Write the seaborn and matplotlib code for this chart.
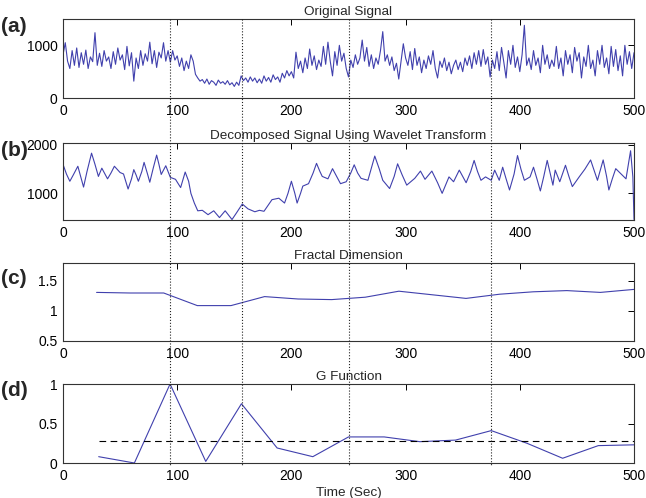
import matplotlib

matplotlib.use("Agg")
import matplotlib.pyplot as plt
import numpy as np
import pandas as pd
import seaborn as sns
from matplotlib.lines import Line2D
from matplotlib.transforms import blended_transform_factory

# --- data ------------------------------------------------------------------

# (a) original signal, sampled every 2 s, in segments
orig_0_94 = [820, 1050, 700, 560, 900, 620, 950, 580, 860, 640, 910, 560, 780, 690,
             1240, 620, 850, 600, 900, 700, 780, 560, 880, 640, 950, 720, 820, 540,
             980, 610, 860, 320, 760, 560, 900, 620, 840, 700, 1060, 650, 900, 580,
             870, 760, 1050, 700, 900, 680]
orig_96_154 = [900, 720, 800, 600, 760, 520, 700, 560, 820, 700,
               450, 380, 320, 350, 280, 360, 260, 330, 300, 240, 340, 280, 310, 260,
               330, 250, 290, 220, 300, 240]
orig_156_250 = [420, 330, 380, 300, 400, 320, 380, 290, 360, 280, 420, 320, 390, 300,
                440, 350, 400, 300, 470, 380, 520, 420, 500, 380, 870, 560, 700, 480,
                760, 560, 930, 620, 800, 540, 720, 600, 980, 640, 1060, 700, 420, 880,
                620, 1000, 700, 850, 560, 400]
orig_252_500 = [720, 580, 820, 640, 760, 1100, 700, 960, 600, 820, 560, 760, 640, 900,
                1260, 700, 820, 620, 780, 520, 660, 360, 700, 1030, 760, 620, 880, 540,
                940, 620, 780, 480, 720, 560, 800, 640, 900, 560, 380, 700, 580, 760,
                520, 680, 460, 620, 720, 540, 680, 500, 760, 620, 800, 560, 860, 640,
                900, 600, 920, 640, 780, 400, 720, 560, 880, 520, 960, 680, 380, 900,
                640, 1000, 580, 780, 500, 820, 1380, 620, 760, 540, 900, 620, 760, 480,
                1000, 640, 820, 560, 720, 600, 980, 560, 760, 420, 900, 640, 820, 480,
                960, 700, 860, 380, 780, 600, 1000, 560, 720, 420, 900, 640, 1000, 580,
                760, 460, 980, 600, 920, 520, 800, 420, 1000, 640, 880, 560, 860]
orig_signal = orig_0_94 + orig_96_154 + orig_156_250 + orig_252_500

# (b) wavelet-decomposed signal (peaks, troughs and shoulders)
wave_time = [0, 3, 6, 9, 13, 16, 18, 21, 25, 28, 31, 34, 39, 42, 45, 50, 53, 57, 60,
             62, 64, 66, 69, 71, 74, 76, 79, 82, 84, 86, 90, 94, 98.5, 103, 105, 107,
             110, 112, 115, 118, 122, 127, 132, 137, 142, 148, 152, 157, 162, 168, 172,
             176, 183, 189, 194, 197, 200, 203, 205, 208, 210, 215, 219, 222, 225, 227,
             232, 236, 243, 248, 252, 255, 258, 261, 267, 270, 273, 277, 280, 286, 290,
             293, 297, 301, 308, 313, 317, 323, 328, 332, 338, 342, 347, 353, 357, 360,
             363, 366, 370, 375, 378, 382, 385, 388, 391, 395, 398, 401, 404, 409, 412,
             415, 418, 421, 424, 429, 431, 435, 440, 443, 446, 452, 457, 462, 465, 468,
             473, 476, 478, 481, 484, 490, 493, 497, 499, 500]
wave_value = [1600, 1400, 1250, 1380, 1560, 1300, 1130, 1450, 1830, 1600, 1350, 1520,
              1300, 1420, 1560, 1430, 1400, 1090, 1300, 1490, 1380, 1250, 1450, 1640,
              1400, 1230, 1520, 1790, 1600, 1390, 1570, 1330, 1290, 1120, 1280, 1440,
              1250, 1000, 800, 640, 650, 560, 640, 500, 640, 460, 600, 780, 680, 620,
              650, 630, 870, 900, 800, 1000, 1250, 1000, 800, 1000, 1150, 1200, 1420,
              1620, 1450, 1350, 1300, 1510, 1200, 1240, 1420, 1590, 1420, 1310, 1270,
              1520, 1770, 1500, 1270, 1100, 1350, 1610, 1380, 1170, 1310, 1460, 1290,
              1460, 1220, 1000, 1340, 1240, 1480, 1220, 1450, 1680, 1450, 1270, 1340,
              1270, 1480, 1270, 1540, 1300, 1070, 1400, 1780, 1500, 1270, 1340, 1540,
              1300, 1050, 1350, 1680, 1170, 1480, 1240, 1580, 1350, 1140, 1340, 1500,
              1690, 1480, 1270, 1690, 1350, 1070, 1300, 1510, 1370, 1300, 1880, 1340,
              460]

# (c) fractal dimension
fd_time = [29.4, 58.8, 88.2, 117.6, 147.1, 176.5, 205.9, 235.3, 264.7, 294.1, 323.5,
           352.9, 382.4, 411.8, 441.2, 470.6, 500]
fd_value = [1.31, 1.30, 1.30, 1.09, 1.09, 1.24, 1.20, 1.19, 1.23, 1.33, 1.27, 1.21,
            1.28, 1.32, 1.34, 1.31, 1.36]

# (d) G function
g_time = [31.25, 62.5, 93.75, 125, 156.25, 187.5, 218.75, 250, 281.25, 312.5, 343.75,
          375, 406.25, 437.5, 468.75, 500]
g_value = [0.08, 0.0, 1.0, 0.02, 0.75, 0.19, 0.08, 0.33, 0.33, 0.27, 0.29, 0.41, 0.25,
           0.06, 0.22, 0.23]

event_times = [94, 157, 250, 375]

titles = ["Original Signal", "Decomposed Signal Using Wavelet Transform",
          "Fractal Dimension", "G Function"]
panel_tags = ["(a)", "(b)", "(c)", "(d)"]
ytick_sets = [[0, 1000], [1000, 2000], [0.5, 1, 1.5], [0, 0.5, 1]]
ytick_texts = [["0", "1000"], ["1000", "2000"], ["0.5", "1", "1.5"], ["0", "0.5", "1"]]
ylims = [(0, 1500), (450, 2040), (0.5, 1.8), (0, 1)]
xticks = [0, 100, 200, 300, 400, 500]

# --- figure ---------------------------------------------------------------

sns.set_theme(style="white")
plt.rcParams["font.family"] = ["Liberation Sans", "DejaVu Sans"]

W, H = 646, 498
fig = plt.figure(figsize=(W / 100, H / 100), dpi=100)

# axes boxes in pixels: (top, bottom)
boxes = [(19, 98), (143, 220), (263, 341), (384, 463)]
left_px, right_px = 63, 634
axes = []
for top, bottom in boxes:
    ax = fig.add_axes([left_px / W, 1 - bottom / H, (right_px - left_px) / W,
                       (bottom - top) / H])
    axes.append(ax)

line_color = "#4040ad"
frames = [
    pd.DataFrame({"t": np.linspace(0, 500, len(orig_signal)), "v": orig_signal}),
    pd.DataFrame({"t": wave_time, "v": wave_value}),
    pd.DataFrame({"t": fd_time, "v": fd_value}),
    pd.DataFrame({"t": g_time, "v": g_value}),
]
for ax, df in zip(axes, frames):
    sns.lineplot(data=df, x="t", y="v", sort=False, estimator=None,
                 color=line_color, linewidth=0.8, ax=ax)

g_mean = float(np.mean(g_value))
axes[3].plot([g_time[0], g_time[-1]], [g_mean, g_mean], color="black",
             linestyle=(0, (6, 4)), linewidth=0.8)

for i, ax in enumerate(axes):
    ax.set_xlim(0, 500)
    ax.set_ylim(*ylims[i])
    ax.set_xticks(xticks)
    ax.set_xticklabels([str(t) for t in xticks])
    ax.set_yticks(ytick_sets[i])
    ax.set_yticklabels(ytick_texts[i])
    ax.tick_params(direction="in", length=4, width=0.7, top=True, right=True,
                   labelsize=10, colors="black", pad=4)
    for sp in ax.spines.values():
        sp.set_color("#333333")
        sp.set_linewidth(0.8)
    ax.set_xlabel("")
    ax.set_ylabel("")
    ax.set_title(titles[i], fontsize=9.7, pad=3)

axes[3].set_xlabel("Time (Sec)", fontsize=9.7, labelpad=3)

# event markers spanning all panels
trans = blended_transform_factory(axes[0].transData, fig.transFigure)
for t in event_times:
    fig.add_artist(Line2D([t, t], [1 - 19 / H, 1 - 465 / H], transform=trans,
                          color="#222222", linestyle=":", linewidth=0.8))

tag_y = [27, 150, 279, 390]
for tag, yc in zip(panel_tags, tag_y):
    fig.text(1 / W, 1 - yc / H, tag, fontsize=15, fontweight="bold",
             ha="left", va="center")

fig.savefig("out.png", dpi=100)
plt.close(fig)
